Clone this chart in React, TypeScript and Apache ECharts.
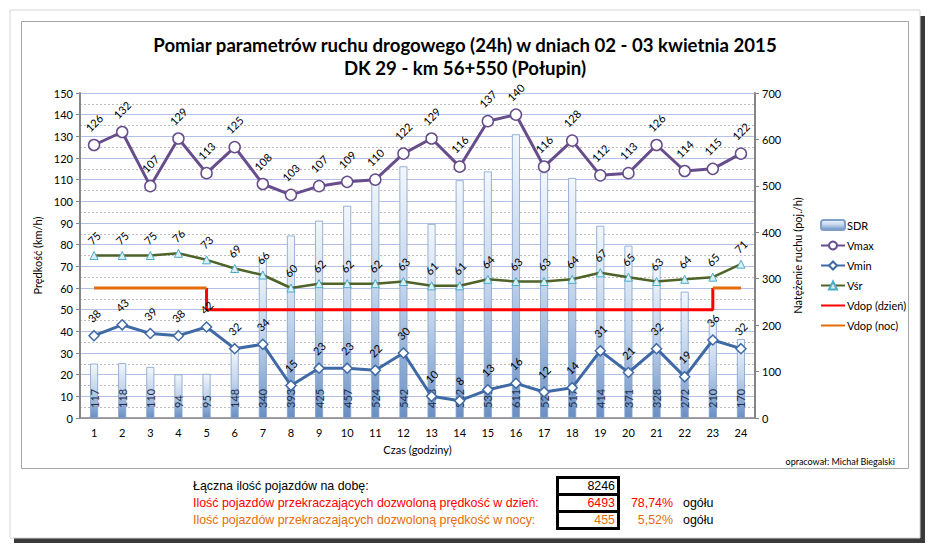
import React, { useEffect, useRef } from "react";
import * as echarts from "echarts";

const hours = ["1","2","3","4","5","6","7","8","9","10","11","12","13","14","15","16","17","18","19","20","21","22","23","24"];
const sdr = [117,118,110,94,95,148,340,393,425,457,524,542,418,512,531,611,529,517,414,371,328,272,210,170];
const vmax = [126,132,107,129,113,125,108,103,107,109,110,122,129,116,137,140,116,128,112,113,126,114,115,122];
const vmin = [38,43,39,38,42,32,34,15,23,23,22,30,10,8,13,16,12,14,31,21,32,19,36,32];
const vsr = [75,75,75,76,73,69,66,60,62,62,62,63,61,61,64,63,63,64,67,65,63,64,65,71];
const dayLimit = 50;
const nightLimit = 60;
const dayStartIdx = 4;
const dayEndIdx = 22;
const vdopNoc = hours.map((_, i) => (i <= dayStartIdx || i >= dayEndIdx ? nightLimit : "-"));
const vdopDzien = [[dayStartIdx, nightLimit], [dayStartIdx, dayLimit], [dayEndIdx, dayLimit], [dayEndIdx, nightLimit]];

const totalLabel = "Łączna ilość pojazdów na dobę:";
const dayLabel = "Ilość pojazdów przekraczających dozwoloną prędkość w dzień:";
const nightLabel = "Ilość pojazdów przekraczających dozwoloną prędkość w nocy:";
const totalVehicles = "8246";
const dayExceed = "6493";
const nightExceed = "455";
const dayPct = "78,74%";
const nightPct = "5,52%";

const FONT = "Lato";
const C_MAX = "#674d8c";
const C_MIN = "#3f6aa6";
const C_SR = "#4f6228";
const C_RED = "#ff0000";
const C_ORANGE = "#e46c0a";
const TRANSPARENT = "rgba(0,0,0,0)";

export default function App() {
  const ref = useRef<HTMLDivElement>(null);
  useEffect(() => {
    const chart = echarts.init(ref.current!, null, { renderer: "svg" });
    const lineLabel = (dist: number) => ({
      show: true,
      position: "top" as const,
      distance: dist,
      rotate: 45,
      align: "center",
      verticalAlign: "middle",
      color: "#000",
      fontSize: 11,
      fontFamily: FONT,
    });
    const tableFont = { fontFamily: "Liberation Sans", fontSize: 12.4, verticalAlign: "middle" };
    const option: any = {
      animation: false,
      textStyle: { fontFamily: FONT },
      graphic: [
        { type: "rect", z: -20, silent: true, shape: { x: 14, y: 16, width: 911, height: 527 }, style: { fill: "#3a3a3a" } },
        { type: "rect", z: -19, silent: true, shape: { x: 10, y: 10, width: 910, height: 528 }, style: { fill: "#fff", stroke: "#d6d6d6", lineWidth: 1 } },
        { type: "rect", z: -18, silent: true, shape: { x: 21.5, y: 21.5, width: 887, height: 447 }, style: { fill: "#fff", stroke: "#a6a6a6", lineWidth: 1 } },
        { type: "text", x: 465, y: 45, style: { text: "Pomiar parametrów ruchu drogowego (24h) w dniach 02 - 03 kwietnia 2015", fontFamily: FONT, fontWeight: "bold", fontSize: 18.6, fill: "#000", align: "center", verticalAlign: "middle" } },
        { type: "text", x: 465, y: 68, style: { text: "DK 29 - km 56+550 (Połupin)", fontFamily: FONT, fontWeight: "bold", fontSize: 18.6, fill: "#000", align: "center", verticalAlign: "middle" } },
        { type: "text", x: 895, y: 461, style: { text: "opracował: Michał Biegalski", fontFamily: FONT, fontSize: 9, fill: "#000", align: "right", verticalAlign: "middle" } },
        { type: "text", x: 193, y: 486, style: { ...tableFont, text: totalLabel, fill: "#000", align: "left" } },
        { type: "text", x: 193, y: 503, style: { ...tableFont, text: dayLabel, fill: C_RED, align: "left" } },
        { type: "text", x: 193, y: 520, style: { ...tableFont, text: nightLabel, fill: C_ORANGE, align: "left" } },
        { type: "rect", silent: true, shape: { x: 557.5, y: 477.5, width: 61, height: 51 }, style: { fill: "none", stroke: "#000", lineWidth: 3 } },
        { type: "line", silent: true, shape: { x1: 557.5, y1: 494.5, x2: 618.5, y2: 494.5 }, style: { stroke: "#000", lineWidth: 3 } },
        { type: "line", silent: true, shape: { x1: 557.5, y1: 511.5, x2: 618.5, y2: 511.5 }, style: { stroke: "#000", lineWidth: 3 } },
        { type: "text", x: 615, y: 486, style: { ...tableFont, text: totalVehicles, fill: "#000", align: "right" } },
        { type: "text", x: 615, y: 503, style: { ...tableFont, text: dayExceed, fill: C_RED, align: "right" } },
        { type: "text", x: 615, y: 520, style: { ...tableFont, text: nightExceed, fill: C_ORANGE, align: "right" } },
        { type: "text", x: 673, y: 503, style: { ...tableFont, text: dayPct, fill: C_RED, align: "right" } },
        { type: "text", x: 673, y: 520, style: { ...tableFont, text: nightPct, fill: C_ORANGE, align: "right" } },
        { type: "text", x: 683, y: 503, style: { ...tableFont, text: "ogółu", fill: "#000", align: "left" } },
        { type: "text", x: 683, y: 520, style: { ...tableFont, text: "ogółu", fill: "#000", align: "left" } },
      ],
      legend: {
        orient: "vertical",
        left: 815,
        top: 214,
        itemGap: 9,
        itemWidth: 24,
        itemHeight: 10,
        textStyle: { fontFamily: FONT, fontSize: 11, color: "#000", padding: [0, 0, 0, -3] },
        data: ["SDR", "Vmax", "Vmin", "Vśr", "Vdop (dzień)", "Vdop (noc)"],
      },
      grid: { left: 80, right: 176, top: 93, bottom: 132 },
      xAxis: {
        type: "category",
        data: hours,
        boundaryGap: true,
        axisLine: { lineStyle: { color: "#868686", width: 1.5 } },
        axisTick: { show: false },
        axisLabel: { color: "#000", fontSize: 11, margin: 9, fontFamily: FONT },
        name: "Czas (godziny)",
        nameLocation: "middle",
        nameGap: 26,
        nameTextStyle: { color: "#000", fontSize: 11, fontFamily: FONT },
      },
      yAxis: [
        {
          type: "value",
          min: 0,
          max: 150,
          interval: 10,
          position: "left",
          axisLine: { show: true, lineStyle: { color: "#868686", width: 2 } },
          axisTick: { show: true, length: 4, lineStyle: { color: "#868686" } },
          axisLabel: { color: "#000", fontSize: 11, margin: 7, fontFamily: FONT },
          splitLine: { show: true, lineStyle: { color: "#b4c1e6", width: 1 } },
          minorTick: { show: false, splitNumber: 2 },
          minorSplitLine: { show: true, lineStyle: { color: "#bcbcbc", type: [2, 2], width: 1 } },
          name: "Prędkość (km/h)",
          nameLocation: "middle",
          nameGap: 22,
          nameTextStyle: { color: "#000", fontSize: 11, fontFamily: FONT },
        },
        {
          type: "value",
          min: 0,
          max: 700,
          interval: 100,
          position: "right",
          axisLine: { show: true, lineStyle: { color: "#868686", width: 2 } },
          axisTick: { show: true, length: 4, lineStyle: { color: "#868686" } },
          axisLabel: { color: "#000", fontSize: 11, margin: 7, fontFamily: FONT },
          splitLine: { show: false },
          name: "Natężenie ruchu (poj./h)",
          nameLocation: "middle",
          nameGap: 27,
          nameTextStyle: { color: "#000", fontSize: 11, fontFamily: FONT },
        },
      ],
      series: [
        {
          name: "SDR",
          type: "bar",
          yAxisIndex: 1,
          data: sdr,
          barWidth: 8,
          z: 1,
          itemStyle: {
            color: new echarts.graphic.LinearGradient(0, 0, 0, 1, [
              { offset: 0, color: "#f3f7fc" },
              { offset: 0.5, color: "#c0d2ea" },
              { offset: 1, color: "#6a8fc4" },
            ]),
            borderColor: "#7f9fcb",
            borderWidth: 0.8,
          },
          label: {
            show: true,
            position: "insideBottom",
            rotate: 90,
            align: "left",
            verticalAlign: "middle",
            distance: 10,
            color: "#1d2f4f",
            fontSize: 11,
            fontFamily: FONT,
          },
        },
        {
          name: "Vmax",
          type: "line",
          data: vmax,
          z: 5,
          symbol: "circle",
          symbolSize: 11,
          lineStyle: { color: C_MAX, width: 3 },
          itemStyle: { color: "#fff", borderColor: C_MAX, borderWidth: 1.5 },
          label: lineLabel(16),
        },
        {
          name: "Vmin",
          type: "line",
          data: vmin,
          z: 5,
          symbol: "diamond",
          symbolSize: 10,
          lineStyle: { color: C_MIN, width: 3 },
          itemStyle: { color: "#fff", borderColor: C_MIN, borderWidth: 1.5 },
          label: lineLabel(14),
        },
        {
          name: "Vśr",
          type: "line",
          data: vsr,
          z: 5,
          symbol: "triangle",
          symbolSize: 8,
          lineStyle: { color: C_SR, width: 2.5 },
          itemStyle: { color: "#dbeef4", borderColor: "#4bacc6", borderWidth: 1 },
          label: lineLabel(13),
        },
        {
          name: "Vdop (dzień)",
          type: "line",
          data: vdopDzien,
          z: 4,
          showSymbol: false,
          symbol: "none",
          lineStyle: { color: C_RED, width: 3 },
          itemStyle: { color: TRANSPARENT, borderWidth: 0 },
        },
        {
          name: "Vdop (noc)",
          type: "line",
          data: vdopNoc,
          z: 4,
          showSymbol: false,
          symbol: "none",
          lineStyle: { color: C_ORANGE, width: 3 },
          itemStyle: { color: TRANSPARENT, borderWidth: 0 },
        },
      ],
    };
    chart.setOption(option);
    return () => chart.dispose();
  }, []);
  return (
    <div style={{ position: "absolute", left: 0, top: 0, width: 931, height: 550, background: "#fff" }}>
      <div ref={ref} style={{ width: 931, height: 550 }} />
    </div>
  );
}
